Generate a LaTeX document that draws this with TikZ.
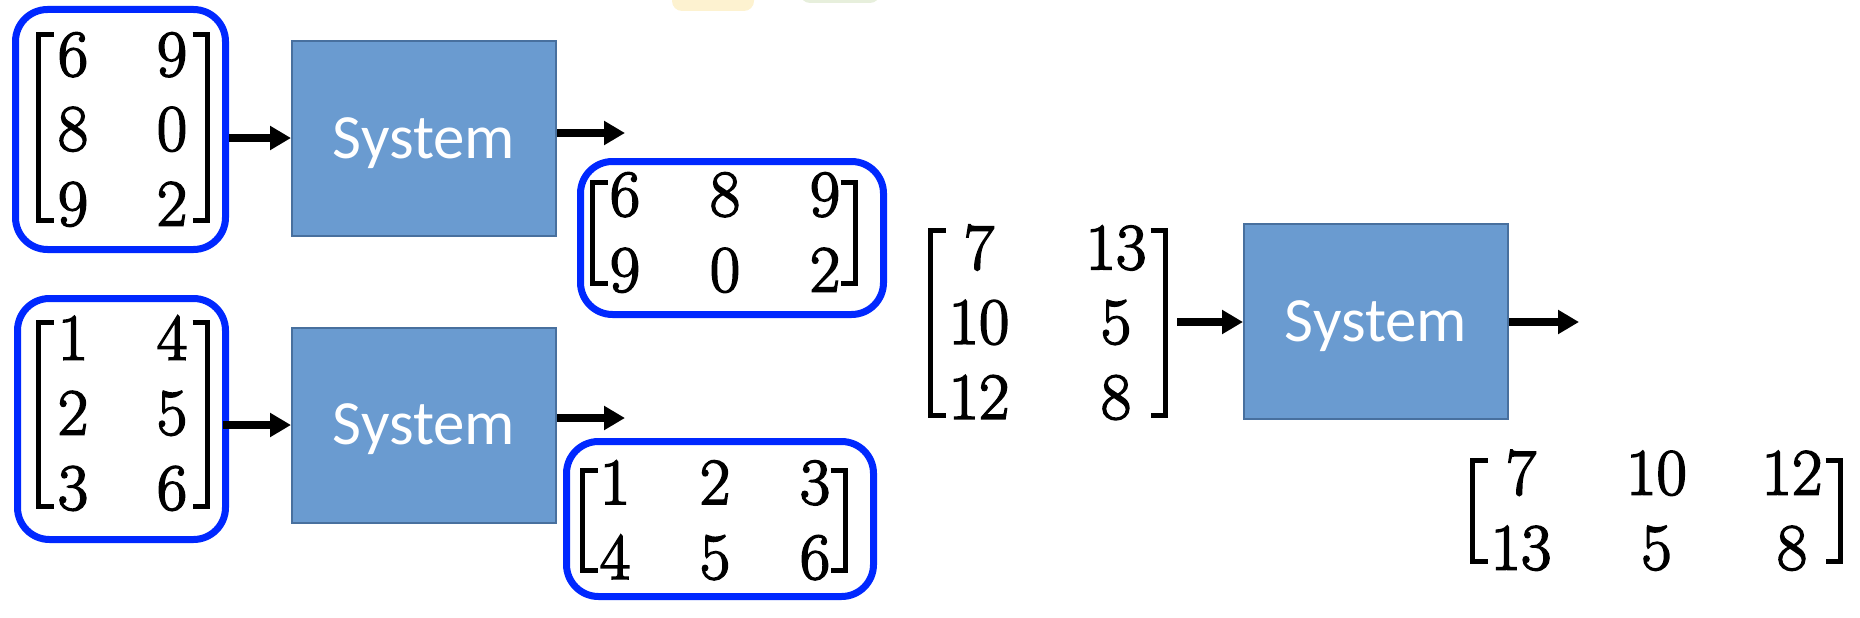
\documentclass[tikz,border=0pt]{standalone}
\usepackage{fontspec}
\newfontfamily\sysfont{Carlito}
\newfontfamily\digfont{Latin Modern Roman}[FakeBold=2.5]
\usetikzlibrary{arrows.meta,matrix}
\definecolor{sysfill}{RGB}{106,155,208}
\definecolor{sysdraw}{RGB}{72,112,158}
\definecolor{boxblue}{RGB}{0,40,255}
\definecolor{faintyellow}{RGB}{253,242,208}
\definecolor{faintgreen}{RGB}{231,239,220}
\newcommand\mybrackets[4]{%
  \draw[brk] (#1+15,#3) -- (#1,#3) -- (#1,#4) -- (#1+15,#4);
  \draw[brk] (#2-15,#3) -- (#2,#3) -- (#2,#4) -- (#2-15,#4);}
\begin{document}
\begin{tikzpicture}[x=1pt,y=-1pt,
  bluebox/.style={draw=boxblue, line width=7pt, rounded corners=32pt, inner sep=0pt},
  sysbox/.style={draw=sysdraw, line width=2pt, fill=sysfill, minimum width=264pt,
    minimum height=195pt, inner sep=0pt, text=white, text height=39pt, text depth=0pt,
    font=\sysfont\fontsize{63}{75}\selectfont},
  entry/.style={inner sep=0pt, font=\digfont\fontsize{66}{78}\selectfont},
  mat/.style={matrix of nodes, inner sep=0pt, column sep=0pt, row sep=0pt},
  brk/.style={line width=5pt, line join=miter},
  arr/.style={line width=8pt, -{Triangle[length=21pt,width=23pt]}},
]
\useasboundingbox (0,0) rectangle (1860,618);
\begin{scope}
  \clip (0,0) rectangle (1860,618);
  \fill[faintyellow, rounded corners=10pt] (672,-30) rectangle (754,11);
  \fill[faintgreen, rounded corners=10pt] (800,-30) rectangle (880,3);
\end{scope}

% blue frames
\node[bluebox, minimum width=210pt, minimum height=240pt] (b1) at (120.5,129.5) {};
\node[bluebox, minimum width=208pt, minimum height=241pt] (b3) at (121.5,419) {};
\node[bluebox, minimum width=303pt, minimum height=153pt] (b2) at (732,238) {};
\node[bluebox, minimum width=307pt, minimum height=155pt] (b4) at (720,519) {};

% system boxes
\node[sysbox] (s1) at (424,138.5) {System};
\node[sysbox] (s2) at (424,425) {System};
\node[sysbox] (s3) at (1376,321.5) {System};

% matrices
\matrix (m1) [mat, nodes={entry, minimum width=99pt, minimum height=74.5pt}] at (122.5,129.5)
  {6 & 9\\ 8 & 0\\ 9 & 2\\};
\mybrackets{38.5}{207.5}{34.5}{220}
\matrix (m3) [mat, nodes={entry, minimum width=99pt, minimum height=75pt}] at (122.5,413)
  {1 & 4\\ 2 & 5\\ 3 & 6\\};
\mybrackets{38.5}{207.5}{322.5}{506}
\matrix (m2) [mat, nodes={entry, minimum width=100pt, minimum height=75pt}] at (725,232.5)
  {6 & 8 & 9\\ 9 & 0 & 2\\};
\mybrackets{592.5}{855.5}{182.5}{283}
\matrix (m4) [mat, nodes={entry, minimum width=100pt, minimum height=74pt}] at (715,520)
  {1 & 2 & 3\\ 4 & 5 & 6\\};
\mybrackets{582.5}{845.5}{470.5}{570}
\matrix (m5) [mat, nodes={entry, minimum width=137pt, minimum height=74.5pt}] at (1047.5,322.5)
  {7 & 13\\ 10 & 5\\ 12 & 8\\};
\mybrackets{930.5}{1165.5}{230.5}{415}
\matrix (m6) [mat, nodes={entry, minimum width=135.5pt, minimum height=75pt}] at (1656.5,510.5)
  {7 & 10 & 12\\ 13 & 5 & 8\\};
\mybrackets{1472.5}{1840.5}{460.5}{561}

% connectors
\coordinate (i1) at (229,138);
\coordinate (i2) at (223,425);
\coordinate (i3) at (1177,322);
\coordinate (o1) at (625,133);
\coordinate (o2) at (625,418);
\coordinate (o3) at (1579,322);
\draw[arr] (i1) -- (i1 -| s1.west);
\draw[arr] (i2) -- (i2 -| s2.west);
\draw[arr] (i3) -- (i3 -| s3.west);
\draw[arr] (o1 -| s1.east) -- (o1);
\draw[arr] (o2 -| s2.east) -- (o2);
\draw[arr] (o3 -| s3.east) -- (o3);
\end{tikzpicture}
\end{document}
